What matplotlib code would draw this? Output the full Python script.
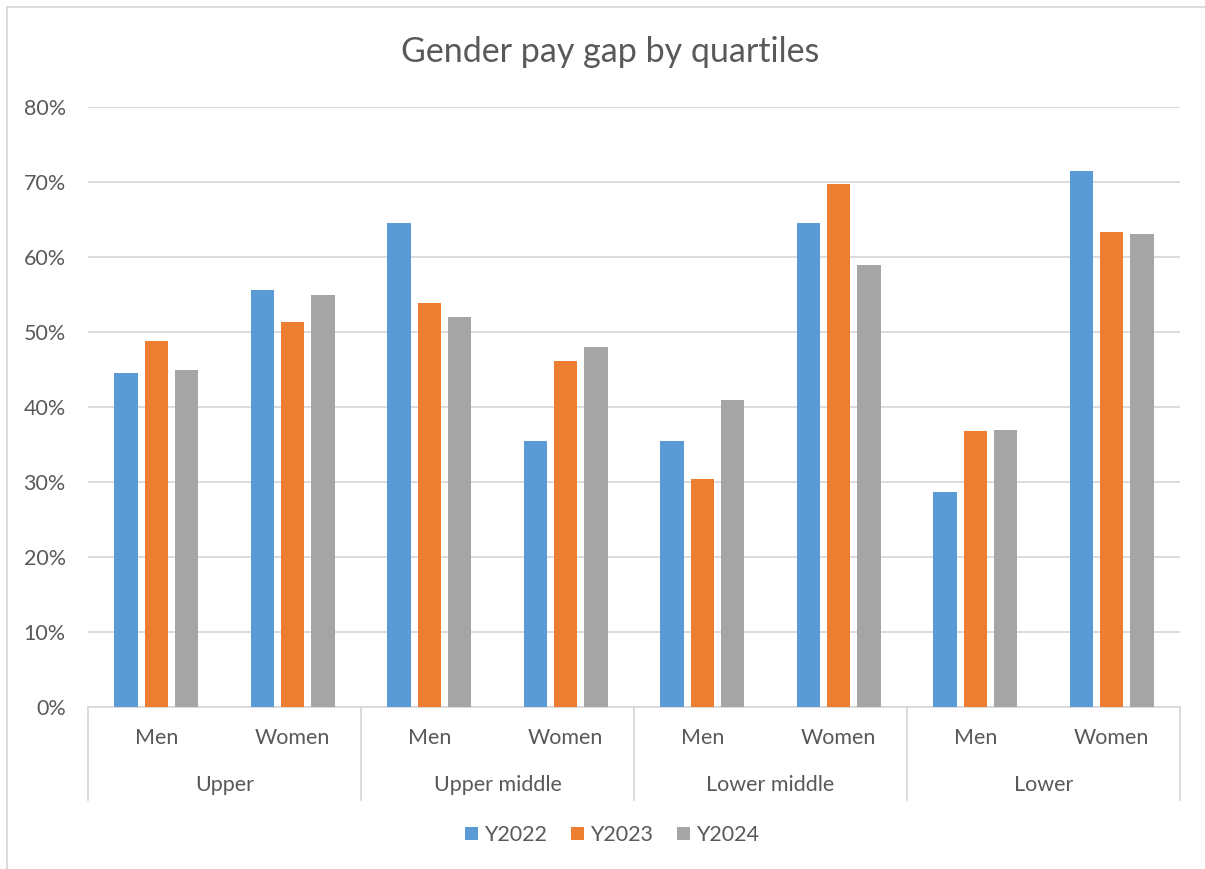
import matplotlib.pyplot as plt
from matplotlib.ticker import PercentFormatter
from matplotlib.lines import Line2D
import numpy as np

plt.rcParams['font.family'] = ['Lato', 'DejaVu Sans']

quartiles = ['Upper', 'Upper middle', 'Lower middle', 'Lower']
genders   = ['Men', 'Women']
series    = ['Y2022', 'Y2023', 'Y2024']

y2022 = [44.5, 55.6, 64.5, 35.5, 35.5, 64.5, 28.7, 71.5]
y2023 = [48.8, 51.3, 53.9, 46.2, 30.4, 69.7, 36.8, 63.3]
y2024 = [45.0, 55.0, 52.0, 48.0, 41.0, 59.0, 37.0, 63.1]

colors = ['#5B9BD5', '#ED7D31', '#A5A5A5']
txt = '#595959'
grid = '#D9D9D9'
fs = 15.5

W, H = 1205, 869
fig = plt.figure(figsize=(W / 100, H / 100), dpi=100)
ax = fig.add_axes([88 / W, (H - 707) / H, 1092 / W, 600 / H])

x = np.arange(len(y2022))
for i, (vals, c, name) in enumerate(zip([y2022, y2023, y2024], colors, series)):
  ax.bar(x + (i - 1) * 0.222, vals, 0.172, color=c, label=name, zorder=3)

ax.set_xlim(-0.5, len(x) - 0.5)
ax.set_ylim(0, 80)
ax.set_yticks(np.arange(0, 81, 10))
ax.yaxis.set_major_formatter(PercentFormatter(xmax=100, decimals=0))
ax.tick_params(axis='y', length=0, pad=16, labelsize=fs, labelcolor=txt)
ax.set_xticks([])
ax.grid(axis='y', color=grid, lw=1.3, zorder=0)
for s in ['top', 'right', 'left']:
  ax.spines[s].set_visible(False)
ax.spines['bottom'].set_color(grid)
ax.spines['bottom'].set_linewidth(1.3)

tr = ax.get_xaxis_transform()
for k in range(len(quartiles) + 1):
  xb = k * 2 - 0.5
  ax.plot([xb, xb], [0, -93 / 600], color=grid, lw=1.3, transform=tr, clip_on=False)
for j in range(len(x)):
  ax.text(j, -31 / 600, genders[j % 2], transform=tr, ha='center', va='center',
          fontsize=fs, color=txt)
for k, q in enumerate(quartiles):
  ax.text(k * 2 + 0.5, -78 / 600, q, transform=tr, ha='center', va='center',
          fontsize=fs, color=txt)

fig.text(0.506, 1 - 52 / H, 'Gender pay gap by quartiles', ha='center', va='center',
         fontsize=24.5, color=txt)

fig.legend(loc='center', bbox_to_anchor=(612 / W, 1 - 835 / H), ncol=3, frameon=False,
           handlelength=0.6, handleheight=0.6, handletextpad=0.3, columnspacing=1.1,
           fontsize=fs, labelcolor=txt)

# chart area border (top and left visible)
fig.add_artist(Line2D([7 / W, 1], [1 - 7 / H, 1 - 7 / H], color=grid, lw=1.3))
fig.add_artist(Line2D([7 / W, 7 / W], [0, 1 - 7 / H], color=grid, lw=1.3))

fig.savefig('out.png', dpi=100)
